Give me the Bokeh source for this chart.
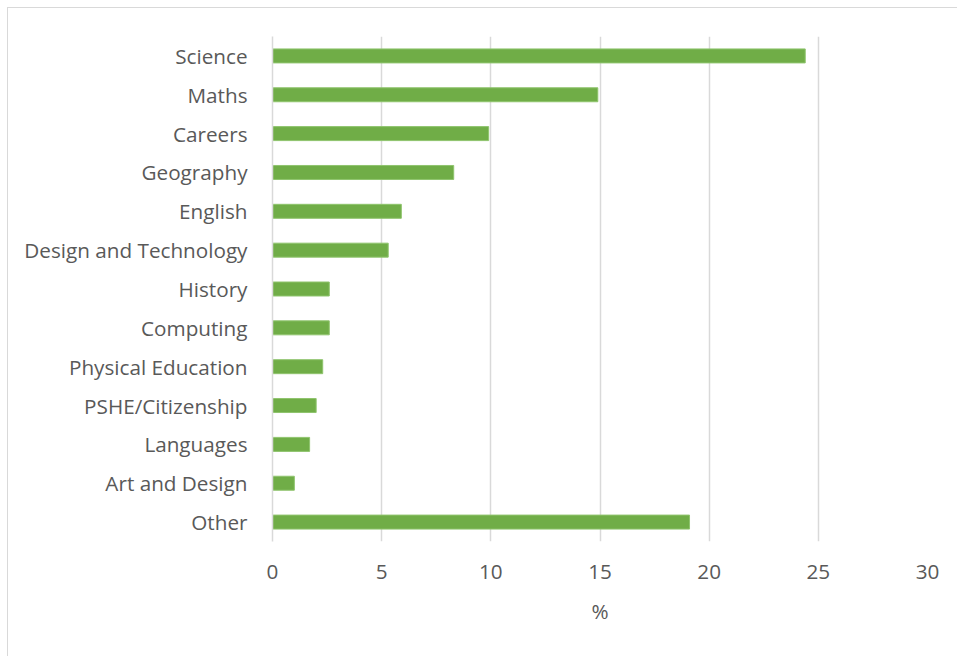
from bokeh.plotting import figure
from bokeh.models import Range1d, FixedTicker
from bokeh.embed import file_html
from bokeh.resources import INLINE

subjects = ["Science", "Maths", "Careers", "Geography", "English",
            "Design and Technology", "History", "Computing",
            "Physical Education", "PSHE/Citizenship", "Languages",
            "Art and Design", "Other"]
percent = [24.4, 14.9, 9.9, 8.3, 5.9, 5.3, 2.6, 2.6, 2.3, 2.0, 1.7, 1.0, 19.1]
x_ticks = [0, 5, 10, 15, 20, 25, 30]

FONT = "Open Sans"
FS = "20.7px"
TXT = "#595959"

p = figure(y_range=list(reversed(subjects)), x_range=Range1d(0, 30),
           width=950, height=649, output_backend="svg", toolbar_location=None,
           min_border_left=264, min_border_right=31, min_border_top=28,
           min_border_bottom=116,
           styles={"margin-left": "7px", "margin-top": "7px",
                   "border-left": "1px solid #d9d9d9",
                   "border-top": "1px solid #d9d9d9",
                   "box-sizing": "border-box"})
p.outline_line_color = None

p.hbar(y=subjects, right=percent, left=0, height=0.36,
       fill_color="#70AD47", line_color="#8fc46d", line_width=1)

p.xaxis.ticker = FixedTicker(ticks=x_ticks)
p.xaxis.axis_line_color = None
p.xaxis.major_tick_line_color = None
p.xaxis.minor_tick_line_color = None
p.xaxis.major_label_standoff = 17
p.xaxis.major_label_text_font = FONT
p.xaxis.major_label_text_font_size = FS
p.xaxis.major_label_text_color = TXT
p.xaxis.axis_label = "%"
p.xaxis.axis_label_text_font = FONT
p.xaxis.axis_label_text_font_size = FS
p.xaxis.axis_label_text_font_style = "normal"
p.xaxis.axis_label_text_color = TXT
p.xaxis.axis_label_standoff = 15

p.yaxis.axis_line_color = "#d9d9d9"
p.yaxis.axis_line_width = 1.5
p.yaxis.major_tick_line_color = None
p.yaxis.minor_tick_line_color = None
p.yaxis.major_label_standoff = 19
p.yaxis.major_label_text_font = FONT
p.yaxis.major_label_text_font_size = FS
p.yaxis.major_label_text_color = TXT

p.xgrid.grid_line_color = "#d9d9d9"
p.xgrid.grid_line_width = 1.5
p.ygrid.grid_line_color = None

open("out.html", "w").write(file_html(p, INLINE))
